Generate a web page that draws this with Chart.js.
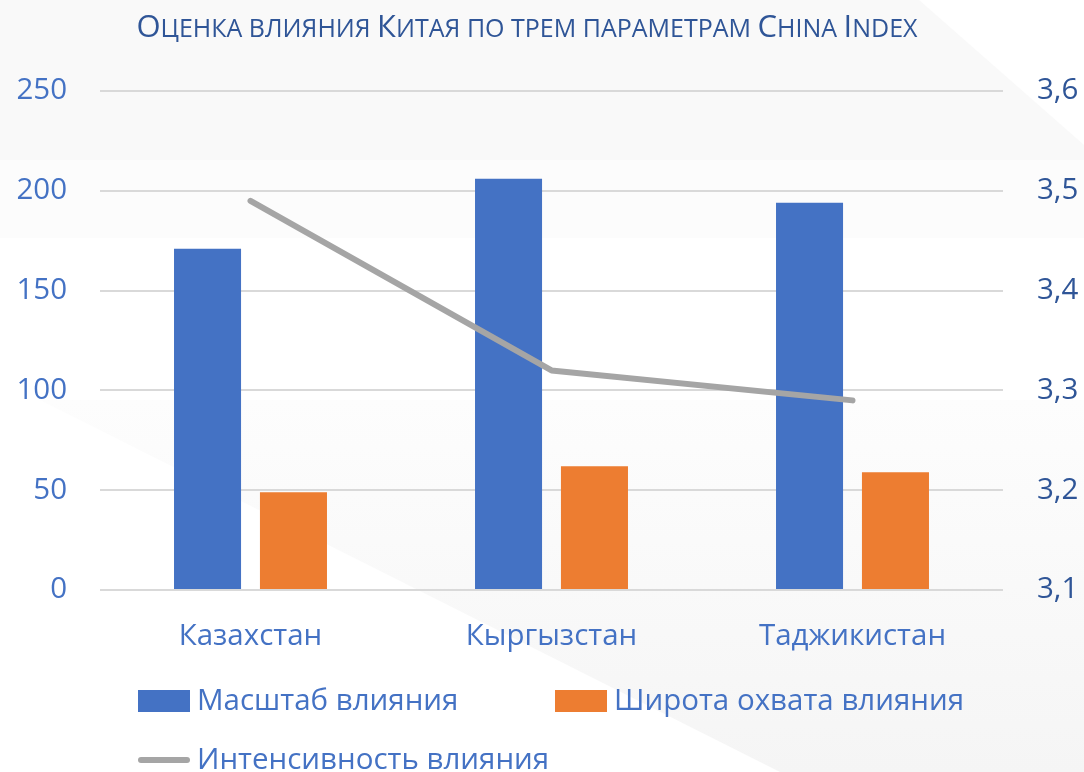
<!DOCTYPE html>
<html>
<head>
<meta charset="utf-8">
<script src="https://cdn.jsdelivr.net/npm/chart.js@4"></script>
<style>
  html, body { margin: 0; padding: 0; background: #fff; }
  #wrap { width: 1084px; height: 772px; }
</style>
</head>
<body>
<div id="wrap"><canvas id="myChart" width="1084" height="772"></canvas></div>
<script>
// Chart data
var titleText = 'Оценка влияния Китая по трем параметрам China Index';
var countries = ['Казахстан', 'Кыргызстан', 'Таджикистан'];
var scaleValues = [171, 206, 194];      // Масштаб влияния
var breadthValues = [49, 62, 59];       // Широта охвата влияния
var intensityValues = [3.49, 3.32, 3.29]; // Интенсивность влияния
var seriesNames = ['Масштаб влияния', 'Широта охвата влияния', 'Интенсивность влияния'];
var leftTicks = [0, 50, 100, 150, 200, 250];
var rightTicks = [3.1, 3.2, 3.3, 3.4, 3.5, 3.6];

var FONT = "'Open Sans', 'Noto Sans', sans-serif";
var lightBlue = '#4472C4';
var darkBlue = '#2F5597';

// soft background shapes like the slide template
var backdrop = {
    id: 'backdrop',
    beforeDraw: function(chart) {
        var ctx = chart.ctx;
        ctx.save();
        ctx.fillStyle = '#ffffff';
        ctx.fillRect(0, 0, chart.width, chart.height);

        ctx.fillStyle = '#f9f9f9';
        ctx.beginPath();
        ctx.moveTo(0, 0); ctx.lineTo(919, 0); ctx.lineTo(1084, 145);
        ctx.lineTo(1084, 160); ctx.lineTo(0, 160); ctx.closePath();
        ctx.fill();

        ctx.fillStyle = '#fcfcfc';
        ctx.fillRect(0, 160, chart.width, 78);

        var g = ctx.createLinearGradient(0, 400, 0, 772);
        g.addColorStop(0, '#fdfdfd');
        g.addColorStop(1, '#f5f5f5');
        ctx.fillStyle = g;
        ctx.beginPath();
        ctx.moveTo(40, 400); ctx.lineTo(780, 772); ctx.lineTo(1084, 772);
        ctx.lineTo(1084, 400); ctx.closePath();
        ctx.fill();
        ctx.restore();
    }
};

// title in small caps
var smallCapsTitle = {
    id: 'smallCapsTitle',
    afterDraw: function(chart) {
        var ctx = chart.ctx;
        var big = 31, small = 25;
        var parts = [];
        var total = 0;
        ctx.save();
        for (var i = 0; i < titleText.length; i++) {
            var ch = titleText[i];
            var isUpper = ch !== ch.toLowerCase();
            var size = isUpper ? big : small;
            ctx.font = size + 'px ' + FONT;
            var c = ch.toUpperCase();
            var w = ctx.measureText(c).width;
            parts.push({ c: c, size: size, w: w });
            total += w;
        }
        var x = 527 - total / 2;
        ctx.fillStyle = darkBlue;
        ctx.textBaseline = 'alphabetic';
        parts.forEach(function(p) {
            ctx.font = p.size + 'px ' + FONT;
            ctx.fillText(p.c, x, 37);
            x += p.w;
        });
        ctx.restore();
    }
};

// legend laid out in a grid like the original
var gridLegend = {
    id: 'gridLegend',
    afterDraw: function(chart) {
        var ctx = chart.ctx;
        var ds = chart.data.datasets;
        var slots = [[138, 701], [555, 701], [138, 760]];
        ctx.save();
        ctx.font = '29.5px ' + FONT;
        ctx.textBaseline = 'middle';
        ds.forEach(function(d, i) {
            var x = slots[i][0], y = slots[i][1];
            if (d.type === 'line') {
                ctx.strokeStyle = d.borderColor;
                ctx.lineWidth = 6;
                ctx.lineCap = 'round';
                ctx.beginPath();
                ctx.moveTo(x + 3, y); ctx.lineTo(x + 49, y);
                ctx.stroke();
            } else {
                ctx.fillStyle = d.backgroundColor;
                ctx.fillRect(x, y - 11, 52, 22);
            }
            ctx.fillStyle = lightBlue;
            ctx.fillText(d.label, x + 59, y + 1);
        });
        ctx.restore();
    }
};

var ctx = document.getElementById('myChart').getContext('2d');
var myChart = new Chart(ctx, {
    data: {
        labels: countries,
        datasets: [{
            type: 'bar',
            label: seriesNames[0],
            data: scaleValues,
            backgroundColor: '#4472C4',
            yAxisID: 'y',
            order: 1
        },
        {
            type: 'bar',
            label: seriesNames[1],
            data: breadthValues,
            backgroundColor: '#ED7D31',
            yAxisID: 'y',
            order: 1
        },
        {
            type: 'line',
            label: seriesNames[2],
            data: intensityValues,
            borderColor: '#A5A5A5',
            borderWidth: 6,
            borderCapStyle: 'round',
            borderJoinStyle: 'round',
            pointRadius: 0,
            tension: 0,
            fill: false,
            yAxisID: 'y1',
            order: 0
        }]
    },
    options: {
        responsive: false,
        animation: false,
        layout: { padding: { top: 91, bottom: 118, left: 0, right: 0 } },
        datasets: {
            bar: { categoryPercentage: 0.571, barPercentage: 0.78 }
        },
        plugins: {
            legend: { display: false },
            title: { display: false },
            tooltip: { enabled: false }
        },
        scales: {
            x: {
                grid: { display: false, drawTicks: false },
                border: { display: false },
                ticks: { color: lightBlue, font: { family: FONT, size: 29.5 }, padding: 29 },
                afterFit: function(scale) { scale.height = 64; }
            },
            y: {
                position: 'left',
                min: leftTicks[0],
                max: leftTicks[leftTicks.length - 1],
                afterBuildTicks: function(scale) {
                    scale.ticks = leftTicks.map(function(v) { return { value: v }; });
                },
                ticks: { autoSkip: false, color: lightBlue, font: { family: FONT, size: 29.5 }, padding: 33 },
                grid: { color: '#d9d9d9', lineWidth: 2, drawTicks: false },
                border: { display: false },
                afterFit: function(scale) { scale.width = 100; }
            },
            y1: {
                position: 'right',
                min: rightTicks[0],
                max: rightTicks[rightTicks.length - 1],
                afterBuildTicks: function(scale) {
                    scale.ticks = rightTicks.map(function(v) { return { value: v }; });
                },
                ticks: {
                    autoSkip: false,
                    color: darkBlue,
                    font: { family: FONT, size: 29.5 },
                    padding: 34,
                    callback: function(v) { return v.toFixed(1).replace('.', ','); }
                },
                grid: { display: false, drawTicks: false },
                border: { display: false },
                afterFit: function(scale) { scale.width = 81; }
            }
        }
    },
    plugins: [backdrop, smallCapsTitle, gridLegend]
});
</script>
</body>
</html>
